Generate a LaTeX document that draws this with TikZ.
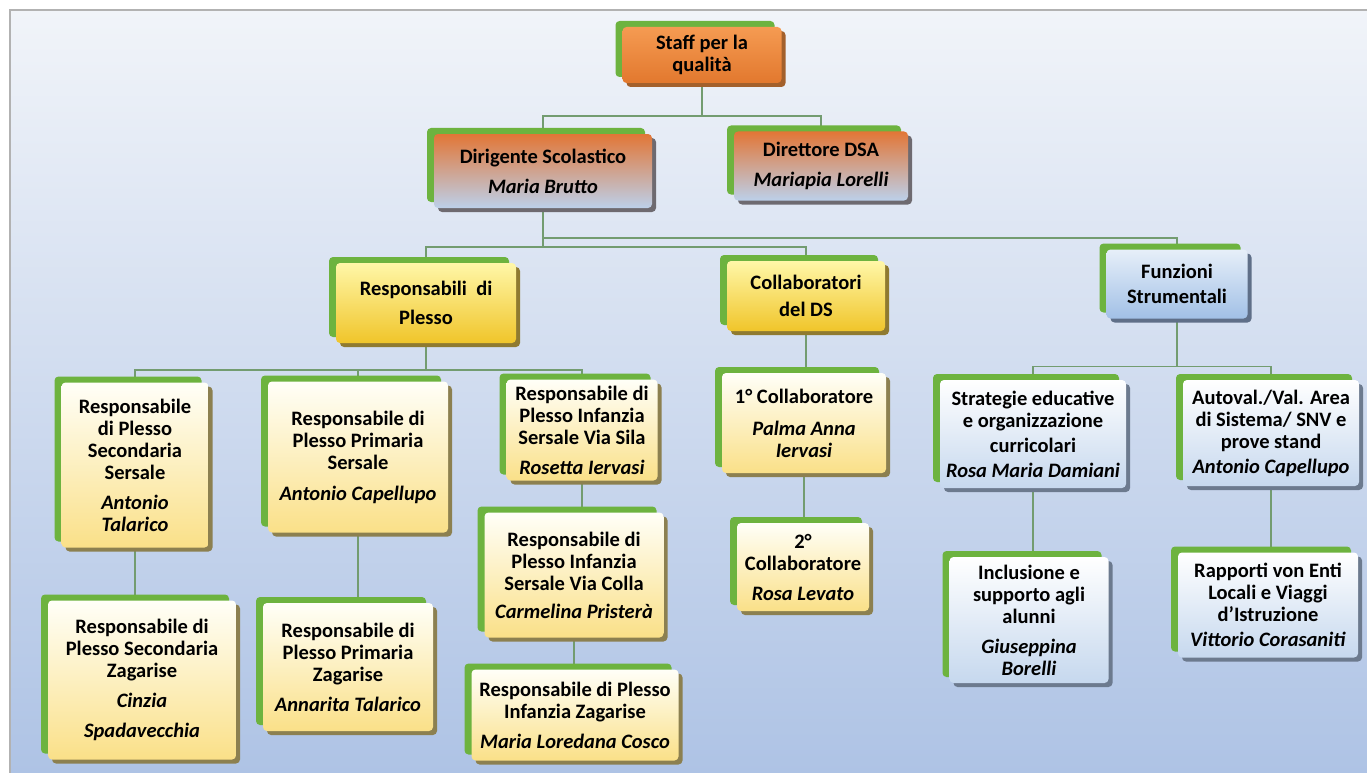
\documentclass[tikz,border=0pt]{standalone}
\usepackage{fontspec}
\setmainfont{Carlito}
\usetikzlibrary{shadows}

\definecolor{bgtop}{HTML}{F1F4F9}
\definecolor{bgbot}{HTML}{AEC3E5}
\definecolor{slab}{HTML}{6DB33F}
\definecolor{linkc}{HTML}{739C70}
\definecolor{orA}{HTML}{F59B52}
\definecolor{orB}{HTML}{E2782E}
\definecolor{orE}{HTML}{A3602C}
\definecolor{obA}{HTML}{E27636}
\definecolor{obB}{HTML}{BCD0EA}
\definecolor{obE}{HTML}{6E6A70}
\definecolor{yeA}{HTML}{FFF7A8}
\definecolor{yeB}{HTML}{F0C52A}
\definecolor{yeE}{HTML}{8F7A30}
\definecolor{pyA}{HTML}{FFFFF8}
\definecolor{pyB}{HTML}{FAE088}
\definecolor{pyE}{HTML}{8C8050}
\definecolor{fuA}{HTML}{E6EFF9}
\definecolor{fuB}{HTML}{A2C0E6}
\definecolor{fuE}{HTML}{5F6F88}
\definecolor{wbA}{HTML}{FFFFFF}
\definecolor{wbB}{HTML}{C6D8EE}
\definecolor{wbE}{HTML}{6C7A8E}

\pgfdeclarelayer{bg}
\pgfsetlayers{bg,main}

\begin{document}
\begin{tikzpicture}[x=1pt,y=-1pt,
    box/.style={rounded corners=4pt, align=center, inner sep=2pt,
      font=\fontsize{20.5}{22}\selectfont\bfseries, text=black,
      general shadow={fill=slab, shadow xshift=-7pt, shadow yshift=6pt},
      general shadow={fill=#1, shadow xshift=4pt, shadow yshift=-4pt}},
    orbox/.style={box=orE, top color=orA, bottom color=orB},
    obbox/.style={box=obE, top color=obA, bottom color=obB},
    yebox/.style={box=yeE, top color=yeA, bottom color=yeB},
    pybox/.style={box=pyE, top color=pyA, bottom color=pyB},
    fubox/.style={box=fuE, top color=fuA, bottom color=fuB},
    wbbox/.style={box=wbE, top color=wbA, bottom color=wbB},
    link/.style={draw=linkc, line width=1.5pt},
    frame/.style={draw=black!30, line width=1.5pt}]
  \useasboundingbox (0,0) rectangle (1367,773);

  \node[orbox, minimum width=159pt, minimum height=56pt] (staff) at (702,55) {Staff per la\\qualità};

  \node[obbox, minimum width=218pt, minimum height=74pt] (dirig) at (543,171) {Dirigente Scolastico\\[8pt]\textit{Maria Brutto}};
  \node[obbox, minimum width=174pt, minimum height=69pt] (dir) at (821,166) {Direttore DSA\\[8pt]\textit{Mariapia Lorelli}};

  \node[yebox, minimum width=180pt, minimum height=80pt] (resp) at (426,303) {Responsabili~~di\\[7pt]Plesso};
  \node[yebox, minimum width=158pt, minimum height=70pt] (coll) at (806,296) {Collaboratori\\[5pt]del DS};
  \node[fubox, minimum width=141pt, minimum height=69pt] (funz) at (1177,284) {Funzioni\\[3pt]Strumentali};

  \node[pybox, minimum width=147pt, minimum height=165pt] (rss) at (135,465) {Responsabile\\di Plesso\\Secondaria\\Sersale\\[8pt]\textit{Antonio}\\\textit{Talarico}};
  \node[pybox, minimum width=180pt, minimum height=151pt] (rps) at (358,457) {Responsabile di\\Plesso Primaria\\Sersale\\[9pt]\textit{Antonio Capellupo}};
  \node[pybox, minimum width=151pt, minimum height=101pt] (ris) at (582,430) {Responsabile di\\Plesso Infanzia\\Sersale Via Sila\\[8pt]\textit{Rosetta Iervasi}};
  \node[pybox, minimum width=179pt, minimum height=125pt] (ric) at (574,575) {Responsabile di\\Plesso Infanzia\\Sersale Via Colla\\[6pt]\textit{Carmelina Pristerà}};
  \node[pybox, minimum width=207pt, minimum height=91pt] (riz) at (575,715) {Responsabile di Plesso\\Infanzia Zagarise\\[8pt]\textit{Maria Loredana Cosco}};
  \node[pybox, minimum width=188pt, minimum height=159pt] (rsz) at (142,680) {Responsabile di\\Plesso Secondaria\\Zagarise\\[8pt]\textit{Cinzia}\\[8pt]\textit{Spadavecchia}};
  \node[pybox, minimum width=170pt, minimum height=128pt] (rpz) at (348,667) {Responsabile di\\Plesso Primaria\\Zagarise\\[8pt]\textit{Annarita Talarico}};

  \node[pybox, minimum width=164pt, minimum height=100pt] (c1) at (804,423) {1° Collaboratore\\[10pt]\textit{Palma Anna}\\\textit{Iervasi}};
  \node[pybox, minimum width=132pt, minimum height=88pt] (c2) at (803,567) {2°\\Collaboratore\\[8pt]\textit{Rosa Levato}};

  \node[wbbox, minimum width=186pt, minimum height=108pt] (strat) at (1033,434) {Strategie educative\\e organizzazione\\[3pt]curricolari\\[3pt]\textit{Rosa Maria Damiani}};
  \node[wbbox, minimum width=176pt, minimum height=106pt] (auto) at (1271,433) {Autoval./Val. Area\\di Sistema/ SNV e\\prove stand\\[3pt]\textit{Antonio Capellupo}};
  \node[wbbox, minimum width=159pt, minimum height=126pt] (incl) at (1029,620) {Inclusione e\\supporto agli\\alunni\\[8pt]\textit{Giuseppina}\\\textit{Borelli}};
  \node[wbbox, minimum width=180pt, minimum height=105pt] (rapp) at (1268,605) {Rapporti von Enti\\Locali e Viaggi\\d’Istruzione\\[3pt]\textit{Vittorio Corasaniti}};

  \begin{pgfonlayer}{bg}
    \fill[top color=bgtop, bottom color=bgbot] (10,10) rectangle (1367,773);
    \draw[frame] (10,773) -- (10,10) -- (1367,10);

    \draw[link] (staff.south) -- ++(0,33) coordinate (j1);
    \draw[link] (dirig.north) |- (j1) -| (dir.north);
    \draw[link] (dirig.south) -- ++(0,30) coordinate (j2) -- ++(0,9) coordinate (j3);
    \draw[link] (j2) -| (funz.north);
    \draw[link] (resp.north) |- (j3) -| (coll.north);

    \draw[link] (resp.south) -- ++(0,27) coordinate (j4);
    \draw[link] (rss.north) |- (j4) -| (ris.north);
    \draw[link] (rps.north) -- (rps.north |- j4);
    \draw[link] (rss.south) -- (rss.south |- rsz.north);
    \draw[link] (rps.south) -- (rps.south |- rpz.north);
    \draw[link] (ris.south) -- (ris.south |- ric.north);
    \draw[link] (ric.south) -- (ric.south |- riz.north);

    \draw[link] (coll.south) -- (coll.south |- c1.north);
    \draw[link] (c1.south) -- (c1.south |- c2.north);

    \draw[link] (funz.south) -- ++(0,48) coordinate (j5);
    \draw[link] (strat.north) |- (j5) -| (auto.north);
    \draw[link] (strat.south) -- (strat.south |- incl.north);
    \draw[link] (auto.south) -- (auto.south |- rapp.north);
  \end{pgfonlayer}
\end{tikzpicture}
\end{document}
